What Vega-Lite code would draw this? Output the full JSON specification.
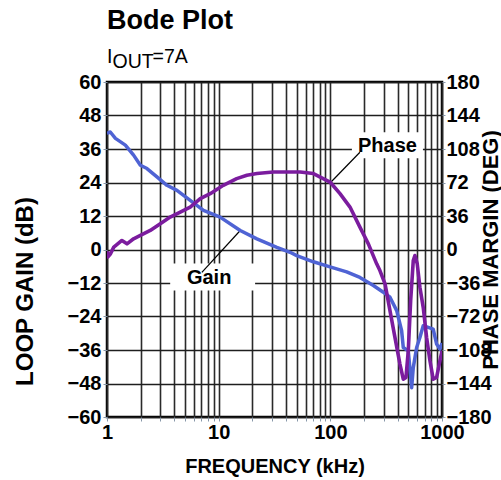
{
  "$schema": "https://vega.github.io/schema/vega-lite/v6.json",
  "width": 335,
  "height": 335,
  "autosize": {"type": "none"},
  "padding": {"left": 107, "top": 82, "right": 59, "bottom": 63},
  "background": "white",
  "title": {"text": "Bode Plot", "anchor": "start", "frame": "group", "font": "Liberation Sans", "fontSize": 27, "fontWeight": "bold", "color": "#000", "offset": 12},
  "config": {
    "view": {"stroke": "#000", "strokeWidth": 2.5},
    "font": "Liberation Sans",
    "axis": {
      "domain": false,
      "grid": true,
      "gridColor": "#1e1e1e",
      "gridWidth": 1.7,
      "gridOpacity": 1,
      "tickColor": "#8797a8",
      "tickSize": 4,
      "labelFont": "Liberation Sans",
      "labelFontSize": 20,
      "labelFontWeight": "bold",
      "labelColor": "#000",
      "titleFont": "Liberation Sans",
      "titleFontWeight": "bold",
      "titleColor": "#000"
    }
  },
  "datasets": {
    "gain": [
      {"f": 1, "db": 41.6}, {"f": 1.07, "db": 42.1}, {"f": 1.19, "db": 39.8}, {"f": 1.46, "db": 37.4},
      {"f": 1.73, "db": 33.8}, {"f": 1.99, "db": 30.2}, {"f": 2.28, "db": 29.0}, {"f": 2.8, "db": 26.0},
      {"f": 3.44, "db": 23.0}, {"f": 4.23, "db": 21.2}, {"f": 5.56, "db": 17.6}, {"f": 7.31, "db": 14.0},
      {"f": 10.3, "db": 11.6}, {"f": 15.6, "db": 6.8}, {"f": 22.0, "db": 3.8}, {"f": 33.2, "db": 0.8},
      {"f": 43.6, "db": -1.0}, {"f": 50, "db": -2.2}, {"f": 70.5, "db": -4.4}, {"f": 99.4, "db": -6.2},
      {"f": 140, "db": -8.0}, {"f": 184, "db": -10.0}, {"f": 243, "db": -12.9}, {"f": 298, "db": -15.3},
      {"f": 342, "db": -17.1}, {"f": 393, "db": -21.9}, {"f": 435, "db": -29.1}, {"f": 450, "db": -35.1},
      {"f": 499, "db": -36.3}, {"f": 535, "db": -49.5}, {"f": 553, "db": -42.3}, {"f": 593, "db": -35.1},
      {"f": 634, "db": -31.5}, {"f": 679, "db": -27.3}, {"f": 753, "db": -27.9}, {"f": 834, "db": -28.5},
      {"f": 895, "db": -33.9}, {"f": 958, "db": -35.7}, {"f": 1000, "db": -33.5}
    ],
    "phase": [
      {"f": 1, "deg": -2}, {"f": 1.02, "deg": -8}, {"f": 1.07, "deg": -5}, {"f": 1.15, "deg": 2.5},
      {"f": 1.36, "deg": 9.7}, {"f": 1.51, "deg": 6.1}, {"f": 1.73, "deg": 11.5}, {"f": 1.99, "deg": 15.1},
      {"f": 2.44, "deg": 20.5}, {"f": 3.0, "deg": 27.7}, {"f": 3.68, "deg": 34.8}, {"f": 4.53, "deg": 40.2},
      {"f": 5.56, "deg": 45.6}, {"f": 6.84, "deg": 54.7}, {"f": 8.4, "deg": 60.0}, {"f": 11.0, "deg": 69.0},
      {"f": 14.5, "deg": 76.2}, {"f": 17.9, "deg": 79.8}, {"f": 22.0, "deg": 81.6}, {"f": 30.9, "deg": 83.3},
      {"f": 43.6, "deg": 83.3}, {"f": 53.6, "deg": 83.3}, {"f": 70.5, "deg": 81.6}, {"f": 99.4, "deg": 72.5},
      {"f": 122, "deg": 60.0}, {"f": 150, "deg": 45.6}, {"f": 184, "deg": 24.0}, {"f": 219, "deg": 6.1},
      {"f": 260, "deg": -15.4}, {"f": 278, "deg": -22.6}, {"f": 309, "deg": -37.0}, {"f": 342, "deg": -65.7},
      {"f": 379, "deg": -94.5}, {"f": 420, "deg": -123.1}, {"f": 450, "deg": -139.3}, {"f": 476, "deg": -137.5},
      {"f": 499, "deg": -108.8}, {"f": 524, "deg": -55.0}, {"f": 553, "deg": -11.9}, {"f": 572, "deg": -6.5},
      {"f": 600, "deg": -15.4}, {"f": 634, "deg": -40.6}, {"f": 679, "deg": -62.2}, {"f": 728, "deg": -94.5},
      {"f": 780, "deg": -119.6}, {"f": 834, "deg": -139.3}, {"f": 895, "deg": -137.5}, {"f": 958, "deg": -119.6},
      {"f": 1000, "deg": -108.8}
    ],
    "boxes": [
      {"f": 156, "f2": 675, "db": 32.7, "db2": 42.0},
      {"f": 3.68, "f2": 21.2, "db": -14.7, "db2": -5.0}
    ],
    "leaders": [
      {"f": 184, "f2": 101, "db": 34.85, "db2": 24.1},
      {"f": 15.6, "f2": 7.07, "db": 6.8, "db2": -8.2}
    ],
    "labels": [
      {"f": 325, "db": 35.0, "label": "Phase"},
      {"f": 8.22, "db": -12.3, "label": "Gain"}
    ],
    "subtitle": [
      {"f": 1, "db": 66.7, "label": "I"},
      {"f": 1.12, "db": 64.9, "label": "OUT"},
      {"f": 2.56, "db": 66.7, "label": "=7A"}
    ]
  },
  "encoding": {
    "x": {
      "field": "f",
      "type": "quantitative",
      "scale": {"type": "log", "domain": [1, 1000], "nice": false},
      "axis": {
        "title": "FREQUENCY (kHz)",
        "titleFontSize": 20,
        "titlePadding": 14,
        "values": [1,2,3,4,5,6,7,8,9,10,20,30,40,50,60,70,80,90,100,200,300,400,500,600,700,800,900,1000],
        "labelExpr": "(datum.value == 1 || datum.value == 10 || datum.value == 100 || datum.value == 1000) ? format(datum.value, 'd') : ''",
        "labelFlush": false,
        "labelOverlap": false,
        "labelPadding": 1,
        "tickSize": 4,
        "gridColor": "#2a2a2a",
        "gridWidth": 1.6
      }
    }
  },
  "layer": [
    {
      "encoding": {
        "y": {
          "field": "db",
          "type": "quantitative",
          "scale": {"domain": [-60, 60], "nice": false, "zero": false},
          "axis": {
            "title": "LOOP GAIN (dB)",
            "titleFontSize": 24,
            "titlePadding": 30,
            "titleY": 209,
            "values": [-60,-48,-36,-24,-12,0,12,24,36,48,60],
            "labelPadding": 2,
            "tickSize": 4
          }
        }
      },
      "layer": [
        {
          "data": {"name": "boxes"},
          "mark": {"type": "rect", "fill": "white", "stroke": null},
          "encoding": {"x2": {"field": "f2"}, "y2": {"field": "db2"}}
        },
        {
          "data": {"name": "leaders"},
          "mark": {"type": "rule", "color": "#000", "strokeWidth": 1.2},
          "encoding": {"x2": {"field": "f2"}, "y2": {"field": "db2"}}
        },
        {
          "data": {"name": "labels"},
          "mark": {"type": "text", "font": "Liberation Sans", "fontSize": 20, "fontWeight": "bold", "color": "#000", "align": "center", "baseline": "alphabetic"},
          "encoding": {"text": {"field": "label"}}
        },
        {
          "data": {"name": "subtitle"},
          "mark": {"type": "text", "font": "Liberation Sans", "fontSize": 19.5, "fontWeight": "normal", "color": "#000", "align": "left", "baseline": "alphabetic", "clip": false},
          "encoding": {"text": {"field": "label"}}
        },
        {
          "data": {"name": "gain"},
          "mark": {"type": "line", "color": "#4f63d4", "strokeWidth": 3.5, "strokeJoin": "round", "clip": true}
        }
      ]
    },
    {
      "data": {"name": "phase"},
      "mark": {"type": "line", "color": "#7b1c9e", "strokeWidth": 3.6, "strokeJoin": "round", "clip": true},
      "encoding": {
        "y": {
          "field": "deg",
          "type": "quantitative",
          "scale": {"domain": [-180, 180], "nice": false, "zero": false},
          "axis": {
            "orient": "right",
            "title": "PHASE MARGIN (DEG)",
            "titleFontSize": 22,
            "titleAngle": 270,
            "titleBaseline": "top",
            "titlePadding": -11,
            "values": [-180,-144,-108,-72,-36,0,36,72,108,144,180],
            "grid": false,
            "labelPadding": 1,
            "tickSize": 3
          }
        }
      }
    }
  ],
  "resolve": {"scale": {"y": "independent"}}
}
